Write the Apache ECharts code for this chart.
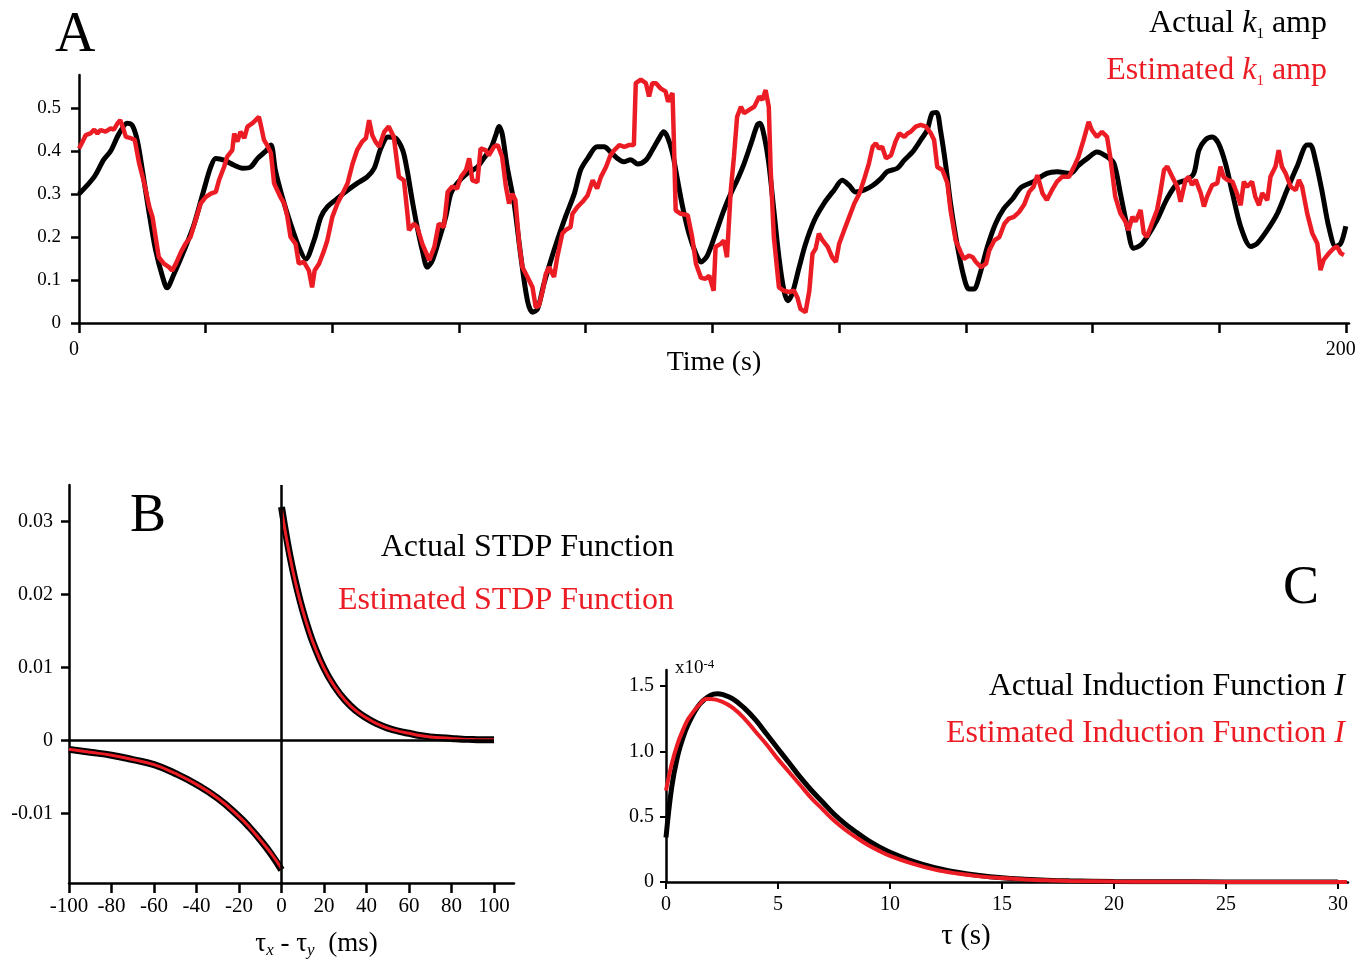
<!DOCTYPE html>
<html>
<head>
<meta charset="utf-8">
<script src="https://cdn.jsdelivr.net/npm/echarts@6/dist/echarts.min.js"></script>
<style>
html,body{margin:0;padding:0;background:#fff;}
#chart{width:1369px;height:969px;}
</style>
</head>
<body>
<div id="chart"></div>
<script>
// ---------- Panel A: k1 amplitude over time (t in s, value) ----------
const actualK1 = [[0,0.30],[2.4,0.34],[3.9,0.38],[5,0.40],[6.3,0.44],[7.6,0.465],[8.4,0.46],[9.2,0.425],[10,0.356],[11,0.262],[12.1,0.169],[13.2,0.107],[13.9,0.082],[15,0.114],[16.6,0.169],[18.2,0.231],[19.7,0.309],[20.8,0.363],[21.6,0.383],[22.9,0.379],[24.5,0.367],[25.8,0.36],[27.1,0.363],[28.2,0.383],[29.5,0.40],[30.3,0.414],[31,0.356],[32.1,0.293],[33.4,0.231],[34.7,0.177],[35.8,0.149],[37.1,0.192],[38.2,0.247],[39.2,0.27],[40.8,0.29],[42.4,0.309],[43.9,0.325],[45.5,0.34],[46.6,0.36],[47.6,0.404],[48.8,0.433],[50,0.43],[51.1,0.402],[51.8,0.356],[52.6,0.286],[53.4,0.223],[54.2,0.169],[55,0.13],[55.8,0.146],[56.8,0.192],[57.9,0.247],[58.7,0.301],[59.7,0.325],[61.3,0.348],[62.9,0.363],[63.9,0.383],[65,0.406],[65.8,0.437],[66.3,0.457],[66.8,0.441],[67.6,0.363],[68.7,0.278],[69.7,0.161],[70.8,0.052],[71.6,0.025],[72.4,0.033],[73.4,0.091],[74.5,0.146],[75.5,0.192],[76.8,0.247],[78.2,0.301],[79.2,0.356],[80.3,0.383],[81.8,0.41],[82.9,0.41],[83.9,0.398],[85,0.383],[86,0.375],[87.1,0.38],[88.2,0.37],[89.5,0.379],[90.5,0.402],[91.6,0.43],[92.3,0.445],[92.9,0.433],[93.7,0.395],[94.5,0.332],[95.3,0.27],[96.3,0.208],[97.4,0.161],[98.2,0.142],[99.2,0.157],[100.5,0.208],[101.8,0.262],[102.9,0.301],[103.9,0.332],[105,0.371],[106.1,0.418],[107.1,0.461],[107.5,0.465],[108.2,0.433],[108.9,0.371],[109.7,0.262],[110.5,0.153],[111.3,0.075],[111.9,0.052],[112.6,0.068],[113.7,0.13],[114.7,0.184],[116.1,0.239],[117.6,0.278],[119.2,0.309],[120.5,0.332],[121.6,0.32],[122.6,0.305],[123.9,0.309],[125.3,0.32],[126.6,0.336],[127.6,0.352],[129.2,0.36],[130.3,0.379],[131.6,0.398],[132.9,0.426],[133.9,0.449],[134.7,0.488],[135.4,0.49],[136,0.449],[136.8,0.371],[137.6,0.278],[138.7,0.177],[139.7,0.107],[140.5,0.079],[141.3,0.079],[142.1,0.107],[143.4,0.177],[144.7,0.231],[146,0.266],[147.4,0.289],[148.7,0.315],[150.7,0.329],[152.8,0.348],[154.4,0.352],[156.5,0.348],[157.8,0.367],[159.2,0.383],[160.7,0.398],[162.3,0.387],[163.4,0.371],[164.4,0.302],[165.5,0.224],[166.5,0.174],[167.6,0.181],[168.6,0.2],[170.2,0.24],[171.8,0.29],[173.4,0.325],[174.9,0.333],[176,0.348],[176.8,0.402],[177.8,0.426],[178.9,0.433],[179.9,0.418],[181,0.371],[182.1,0.302],[183.4,0.224],[185,0.178],[186,0.185],[187.6,0.216],[189.2,0.255],[190.7,0.309],[192.3,0.364],[193.9,0.414],[194.4,0.414],[195.2,0.379],[196.3,0.302],[197.3,0.224],[198.4,0.178],[199.2,0.185],[200,0.225]];

const estimatedK1 = [[0,0.406],[0.5,0.42],[1.05,0.437],[1.8,0.441],[2.4,0.45],[2.9,0.441],[3.4,0.449],[4.2,0.445],[5,0.453],[5.5,0.45],[6.1,0.465],[6.5,0.472],[6.8,0.461],[7.4,0.433],[8.2,0.43],[8.8,0.426],[9.5,0.371],[10.3,0.325],[11.1,0.27],[11.6,0.247],[12.1,0.2],[12.6,0.153],[13.4,0.138],[14.2,0.13],[14.7,0.122],[15.3,0.138],[16.1,0.165],[16.8,0.184],[17.6,0.2],[18.4,0.239],[19.2,0.278],[20,0.293],[20.8,0.301],[21.6,0.305],[22.1,0.332],[22.9,0.363],[23.4,0.387],[24.2,0.402],[24.5,0.441],[25,0.422],[25.5,0.445],[26.1,0.43],[26.6,0.457],[27.4,0.465],[27.9,0.472],[28.4,0.48],[28.7,0.461],[29.2,0.426],[29.7,0.414],[30.3,0.395],[30.8,0.325],[31.3,0.309],[31.8,0.293],[32.4,0.278],[32.9,0.247],[33.4,0.2],[34.2,0.184],[34.7,0.138],[35.5,0.142],[36.3,0.122],[36.8,0.083],[37.2,0.122],[37.9,0.138],[38.7,0.169],[39.2,0.192],[40,0.247],[40.8,0.278],[41.6,0.301],[42.4,0.325],[43.2,0.371],[43.9,0.402],[44.7,0.422],[45.3,0.43],[45.8,0.472],[46.3,0.437],[46.8,0.422],[47.4,0.41],[48.2,0.445],[48.9,0.457],[49.7,0.433],[50.5,0.34],[51.3,0.332],[51.8,0.262],[52.1,0.216],[52.9,0.231],[53.4,0.223],[54.2,0.184],[55.3,0.146],[56.1,0.177],[56.8,0.231],[57.6,0.223],[58.2,0.305],[58.9,0.317],[59.7,0.313],[60.3,0.34],[61.1,0.356],[61.6,0.383],[62.1,0.332],[62.9,0.328],[63.4,0.406],[64.2,0.402],[64.7,0.39],[65.5,0.41],[66.1,0.414],[66.8,0.387],[67.4,0.317],[67.9,0.278],[68.4,0.301],[68.9,0.286],[69.5,0.184],[70,0.13],[70.8,0.107],[71.6,0.083],[72.1,0.037],[72.6,0.04],[73.2,0.075],[73.7,0.114],[74.2,0.13],[75,0.107],[75.5,0.153],[76.3,0.208],[76.8,0.216],[77.6,0.223],[77.9,0.254],[78.7,0.27],[79.5,0.282],[80.3,0.297],[81.1,0.332],[81.8,0.313],[82.4,0.34],[83.2,0.363],[83.9,0.39],[84.5,0.402],[85.3,0.414],[86.1,0.41],[86.8,0.414],[87.6,0.414],[87.9,0.558],[88.7,0.566],[89.5,0.558],[90,0.527],[90.5,0.558],[91.1,0.558],[91.8,0.546],[92.6,0.539],[93,0.515],[93.7,0.535],[93.9,0.433],[94.2,0.262],[95,0.254],[96.1,0.251],[96.8,0.2],[97.4,0.138],[98.2,0.105],[98.9,0.103],[99.5,0.11],[100.2,0.075],[100.5,0.177],[101.3,0.184],[101.8,0.192],[102.3,0.153],[102.9,0.309],[103.4,0.387],[103.9,0.48],[104.5,0.503],[105,0.488],[105.8,0.496],[106.6,0.503],[107.4,0.527],[107.9,0.519],[108.4,0.542],[108.9,0.503],[109.2,0.356],[109.7,0.2],[110.5,0.083],[111.3,0.075],[112.1,0.072],[112.9,0.075],[113.4,0.06],[113.9,0.033],[114.7,0.025],[115.3,0.075],[115.8,0.161],[116.3,0.173],[116.8,0.208],[117.4,0.192],[118.2,0.177],[118.9,0.153],[119.5,0.142],[120,0.184],[120.8,0.216],[121.6,0.247],[122.4,0.278],[123.2,0.301],[123.9,0.332],[124.7,0.371],[125.3,0.41],[125.8,0.418],[126.3,0.406],[126.8,0.41],[127.4,0.383],[128.2,0.39],[128.9,0.422],[129.5,0.441],[130.3,0.433],[130.8,0.441],[131.3,0.445],[132.1,0.457],[132.9,0.461],[133.7,0.457],[134.5,0.441],[135,0.426],[135.5,0.363],[136.3,0.356],[137.1,0.325],[137.6,0.262],[138.4,0.192],[139.2,0.165],[139.7,0.149],[140.5,0.157],[141.1,0.153],[141.6,0.142],[142.4,0.13],[143.2,0.138],[143.7,0.169],[144.5,0.192],[145.3,0.2],[146.1,0.231],[146.8,0.243],[147.6,0.247],[148.4,0.258],[149.2,0.275],[150,0.305],[150.7,0.317],[151.3,0.344],[152.1,0.302],[152.8,0.286],[153.6,0.309],[154.4,0.329],[155.2,0.34],[156.3,0.34],[157.1,0.364],[157.8,0.387],[158.6,0.426],[159.4,0.468],[159.9,0.449],[160.7,0.433],[161.5,0.445],[162.3,0.433],[162.8,0.387],[163.6,0.294],[164.4,0.255],[165.2,0.236],[165.7,0.216],[166.3,0.247],[166.8,0.236],[167.6,0.263],[168.1,0.209],[168.6,0.2],[169.4,0.232],[170.2,0.263],[170.7,0.302],[171.3,0.356],[171.8,0.364],[172.6,0.34],[173.4,0.317],[173.9,0.282],[174.7,0.333],[175.2,0.34],[175.7,0.321],[176.3,0.333],[177.1,0.302],[177.6,0.271],[178.1,0.294],[178.9,0.321],[179.7,0.325],[180.2,0.364],[180.7,0.34],[181.3,0.333],[182.1,0.329],[182.8,0.302],[183.4,0.274],[183.9,0.329],[184.4,0.317],[185.2,0.329],[185.7,0.294],[186.3,0.274],[186.8,0.302],[187.6,0.286],[188.1,0.34],[188.9,0.364],[189.4,0.402],[189.9,0.364],[190.5,0.348],[191.3,0.317],[192.1,0.309],[192.6,0.333],[193.1,0.317],[193.9,0.255],[194.7,0.209],[195.5,0.185],[196,0.123],[196.5,0.147],[197.3,0.162],[198.1,0.174],[198.6,0.178],[199.2,0.162],[199.7,0.158]];

const timeTicks = [0,20,40,60,80,100,120,140,160,180,200];
const timeLabels = [0,200];
const ampTicks = [0,0.1,0.2,0.3,0.4,0.5];

// ---------- Panel B: STDP function (ms, weight change) ----------
const stdpActualNeg = [[-100,-0.0012],[-90,-0.0016],[-80,-0.0020],[-70,-0.0026],[-60,-0.0033],[-50,-0.0045],[-40,-0.0060],[-30,-0.0079],[-20,-0.0104],[-15,-0.0119],[-10,-0.0136],[-5,-0.0155],[0,-0.0177]];
const stdpActualPos = [[0,0.0320],[2.5,0.0276],[5,0.0238],[7.5,0.0206],[10,0.0178],[12.5,0.0154],[15,0.0133],[20,0.0099],[25,0.0074],[30,0.0055],[35,0.0041],[40,0.0031],[45,0.0023],[50,0.0017],[55,0.0013],[60,0.0010],[65,0.0007],[70,0.0005],[75,0.0004],[80,0.0003],[85,0.0002],[90,0.00015],[95,0.0001],[100,0.0001]];
const stdpEstNeg = [[-100,-0.0012],[-90,-0.0016],[-80,-0.0020],[-70,-0.0026],[-60,-0.0033],[-50,-0.0045],[-40,-0.0060],[-30,-0.0079],[-20,-0.0104],[-15,-0.0119],[-10,-0.0136],[-5,-0.0154],[0,-0.0175]];
const stdpEstPos = [[0,0.0316],[2.5,0.0274],[5,0.0237],[7.5,0.0205],[10,0.0178],[12.5,0.0154],[15,0.0133],[20,0.0099],[25,0.0074],[30,0.0055],[35,0.0041],[40,0.0031],[45,0.0023],[50,0.0017],[55,0.0013],[60,0.0010],[65,0.0007],[70,0.0005],[75,0.0004],[80,0.0003],[85,0.0002],[90,0.00015],[95,0.0001],[100,0.0001]];
const stdpXTicks = [-100,-80,-60,-40,-20,0,20,40,60,80,100];
const stdpYTicks = [-0.01,0,0.01,0.02,0.03];

// ---------- Panel C: induction function (tau in s, value x1e-4) ----------
const inductionActual = [[0,0.34],[0.25,0.72],[0.5,0.95],[0.75,1.10],[1,1.21],[1.5,1.36],[2,1.43],[2.3,1.44],[2.5,1.435],[3,1.40],[3.5,1.33],[4,1.24],[4.5,1.13],[5,1.02],[5.5,0.91],[6,0.80],[6.5,0.70],[7,0.61],[7.5,0.52],[8,0.445],[8.5,0.38],[9,0.32],[9.5,0.27],[10,0.228],[11,0.16],[12,0.11],[13,0.075],[14,0.05],[15,0.033],[16,0.022],[17,0.014],[18,0.009],[20,0.004],[22,0.002],[25,0.0005],[30,0]];
const inductionEstimated = [[0,0.70],[0.25,0.90],[0.5,1.05],[0.75,1.16],[1,1.25],[1.5,1.36],[1.8,1.40],[2,1.40],[2.5,1.38],[3,1.33],[3.5,1.25],[4,1.15],[4.5,1.05],[5,0.94],[5.5,0.84],[6,0.74],[6.5,0.64],[7,0.555],[7.5,0.47],[8,0.40],[8.5,0.34],[9,0.285],[9.5,0.24],[10,0.20],[11,0.14],[12,0.095],[13,0.065],[14,0.043],[15,0.03],[16,0.02],[17,0.013],[18,0.008],[20,0.004],[22,0.002],[25,0.0005],[30.4,0]];
const tauTicks = [0,5,10,15,20,25,30];
const indYTicks = [0,0.5,1,1.5];

// ---------- chart ----------
const FONT = "'Liberation Serif', 'Times New Roman', serif";
const RED = '#ec1c24';
const BLACK = '#000';
const chart = echarts.init(document.getElementById('chart'), null, {renderer: 'canvas'});

function axisBase(extra) {
  return Object.assign({
    type: 'value',
    splitLine: {show: false},
    axisLine: {show: true, onZero: false, lineStyle: {color: BLACK, width: 2.5}},
    axisTick: {show: true, inside: false, length: 9, lineStyle: {color: BLACK, width: 2.5}},
    axisLabel: {color: BLACK, fontFamily: FONT, fontSize: 20}
  }, extra);
}

const option = {
  animation: false,
  backgroundColor: '#fff',
  grid: [
    {left: 79, right: 20, top: 75, bottom: 646},
    {left: 69, right: 855, top: 485, bottom: 86},
    {left: 666, right: 21, top: 670, bottom: 87}
  ],
  xAxis: [
    axisBase({gridIndex: 0, min: 0, max: 200.5,
      axisTick: {show: true, length: 10, customValues: timeTicks, lineStyle: {color: BLACK, width: 2.5}},
      axisLabel: {color: BLACK, fontFamily: FONT, fontSize: 20, margin: 17, customValues: timeLabels, padding: [0, 10, 0, 0]},
      name: 'Time (s)', nameLocation: 'middle', nameGap: 26, nameMoveOverlap: false,
      nameTextStyle: {color: BLACK, fontFamily: FONT, fontSize: 28}
    }),
    axisBase({gridIndex: 1, min: -100, max: 109.4,
      axisTick: {show: true, length: 10, customValues: stdpXTicks, lineStyle: {color: BLACK, width: 2.5}},
      axisLabel: {color: BLACK, fontFamily: FONT, fontSize: 21, margin: 13, customValues: stdpXTicks},
      name: 'τ{s|x} - τ{s|y}  (ms)', nameLocation: 'middle', nameGap: 46,
      nameTextStyle: {color: BLACK, fontFamily: FONT, fontSize: 27, lineHeight: 30, padding: [0, 0, 0, 50],
        rich: {s: {fontFamily: FONT, fontSize: 17, fontStyle: 'italic', color: BLACK, verticalAlign: 'bottom', lineHeight: 12}}}
    }),
    axisBase({gridIndex: 2, min: 0, max: 30.45,
      axisTick: {show: true, length: 7, customValues: tauTicks, lineStyle: {color: BLACK, width: 2}},
      axisLabel: {color: BLACK, fontFamily: FONT, fontSize: 20, margin: 13, customValues: tauTicks},
      name: 'τ (s)', nameLocation: 'middle', nameGap: 40,
      nameTextStyle: {color: BLACK, fontFamily: FONT, fontSize: 29, padding: [0, 82, 0, 0]}
    })
  ],
  yAxis: [
    axisBase({gridIndex: 0, min: 0, max: 0.577,
      axisTick: {show: true, length: 8, customValues: ampTicks, lineStyle: {color: BLACK, width: 2.5}},
      axisLabel: {color: BLACK, fontFamily: FONT, fontSize: 19, margin: 18, customValues: ampTicks,
        formatter: v => (v === 0 ? '0' : String(v))}
    }),
    axisBase({gridIndex: 1, min: -0.0195, max: 0.035,
      axisTick: {show: true, length: 8, customValues: stdpYTicks, lineStyle: {color: BLACK, width: 2.5}},
      axisLabel: {color: BLACK, fontFamily: FONT, fontSize: 20, margin: 16, customValues: stdpYTicks,
        formatter: v => (v === 0 ? '0' : String(v))}
    }),
    axisBase({gridIndex: 2, min: 0, max: 1.622,
      axisTick: {show: true, length: 6, customValues: indYTicks, lineStyle: {color: BLACK, width: 2}},
      axisLabel: {color: BLACK, fontFamily: FONT, fontSize: 20, margin: 12, customValues: indYTicks,
        formatter: v => (v === 0 ? '0' : v.toFixed(1))}
    })
  ],
  series: [
    {type: 'line', xAxisIndex: 0, yAxisIndex: 0, data: actualK1, showSymbol: false, smooth: 0.3,
      lineStyle: {color: BLACK, width: 5}, z: 2},
    {type: 'line', xAxisIndex: 0, yAxisIndex: 0, data: estimatedK1, showSymbol: false,
      lineStyle: {color: RED, width: 4.5}, z: 3},

    {type: 'line', xAxisIndex: 1, yAxisIndex: 1, data: stdpActualNeg, showSymbol: false, smooth: true,
      lineStyle: {color: BLACK, width: 7}, z: 2,
      markLine: {silent: true, symbol: 'none', label: {show: false},
        lineStyle: {color: BLACK, width: 2.5, type: 'solid'},
        data: [{xAxis: 0}, [{coord: [-100, 0]}, {coord: [100, 0]}]]}},
    {type: 'line', xAxisIndex: 1, yAxisIndex: 1, data: stdpActualPos, showSymbol: false, smooth: true,
      lineStyle: {color: BLACK, width: 7}, z: 2},
    {type: 'line', xAxisIndex: 1, yAxisIndex: 1, data: stdpEstNeg, showSymbol: false, smooth: true,
      lineStyle: {color: RED, width: 3}, z: 3},
    {type: 'line', xAxisIndex: 1, yAxisIndex: 1, data: stdpEstPos, showSymbol: false, smooth: true,
      lineStyle: {color: RED, width: 3}, z: 3},

    {type: 'line', xAxisIndex: 2, yAxisIndex: 2, data: inductionActual, showSymbol: false, smooth: 0.4,
      lineStyle: {color: BLACK, width: 5}, z: 2},
    {type: 'line', xAxisIndex: 2, yAxisIndex: 2, data: inductionEstimated, showSymbol: false, smooth: 0.4,
      lineStyle: {color: RED, width: 4}, z: 3}
  ],
  graphic: [
    {type: 'text', x: 55, y: 36, style: {text: 'A', fontFamily: FONT, fontSize: 56, fill: BLACK, verticalAlign: 'middle'}},
    {type: 'text', x: 130, y: 517, style: {text: 'B', fontFamily: FONT, fontSize: 54, fill: BLACK, verticalAlign: 'middle'}},
    {type: 'text', x: 1283, y: 589, style: {text: 'C', fontFamily: FONT, fontSize: 54, fill: BLACK, verticalAlign: 'middle'}},

    {type: 'text', x: 1327, y: 24, style: {text: 'Actual {i|k}{s|1} amp', fontFamily: FONT, fontSize: 32, lineHeight: 36, fill: BLACK,
      align: 'right', verticalAlign: 'middle',
      rich: {i: {fontFamily: FONT, fontSize: 32, fontStyle: 'italic', fill: BLACK, lineHeight: 36},
             s: {fontFamily: FONT, fontSize: 15, fill: BLACK, verticalAlign: 'bottom', lineHeight: 8}}}},
    {type: 'text', x: 1327, y: 71, style: {text: 'Estimated {i|k}{s|1} amp', fontFamily: FONT, fontSize: 32, lineHeight: 36, fill: RED,
      align: 'right', verticalAlign: 'middle',
      rich: {i: {fontFamily: FONT, fontSize: 32, fontStyle: 'italic', fill: RED, lineHeight: 36},
             s: {fontFamily: FONT, fontSize: 15, fill: RED, verticalAlign: 'bottom', lineHeight: 8}}}},

    {type: 'text', x: 674, y: 548, style: {text: 'Actual STDP Function', fontFamily: FONT, fontSize: 32, fill: BLACK, align: 'right', verticalAlign: 'middle'}},
    {type: 'text', x: 674, y: 601, style: {text: 'Estimated STDP Function', fontFamily: FONT, fontSize: 32, fill: RED, align: 'right', verticalAlign: 'middle'}},

    {type: 'text', x: 1345, y: 687, style: {text: 'Actual Induction Function {i|I}', fontFamily: FONT, fontSize: 32, lineHeight: 36, fill: BLACK,
      align: 'right', verticalAlign: 'middle',
      rich: {i: {fontFamily: FONT, fontSize: 32, fontStyle: 'italic', fill: BLACK, lineHeight: 36}}}},
    {type: 'text', x: 1345, y: 734, style: {text: 'Estimated Induction Function {i|I}', fontFamily: FONT, fontSize: 32, lineHeight: 36, fill: RED,
      align: 'right', verticalAlign: 'middle',
      rich: {i: {fontFamily: FONT, fontSize: 32, fontStyle: 'italic', fill: RED, lineHeight: 36}}}},

    {type: 'text', x: 675, y: 668, style: {text: 'x10{p|-4}', fontFamily: FONT, fontSize: 19, lineHeight: 20, fill: BLACK,
      align: 'left', verticalAlign: 'middle',
      rich: {p: {fontFamily: FONT, fontSize: 13, fill: BLACK, verticalAlign: 'top', lineHeight: 12}}}}
  ]
};
chart.setOption(option);
</script>
</body>
</html>
